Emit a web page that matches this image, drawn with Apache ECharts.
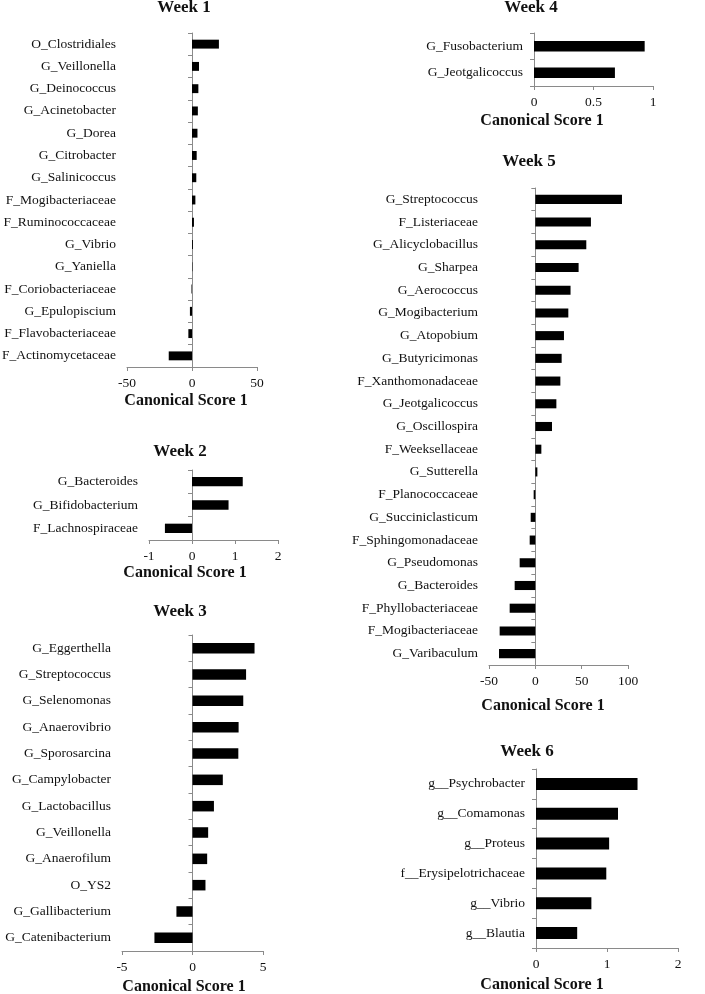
<!DOCTYPE html>
<html>
<head>
<meta charset="utf-8">
<title>Canonical scores by week</title>
<script src="https://cdn.jsdelivr.net/npm/echarts@6/dist/echarts.min.js"></script>
<style>
  html, body { margin: 0; padding: 0; background: #fff; }
  #chart { width: 705px; height: 994px; }
</style>
</head>
<body>
<div id="chart"></div>
<script>
// taxa are listed top to bottom, as they appear in each panel
const week1Taxa = ["O_Clostridiales", "G_Veillonella", "G_Deinococcus", "G_Acinetobacter", "G_Dorea",
  "G_Citrobacter", "G_Salinicoccus", "F_Mogibacteriaceae", "F_Ruminococcaceae", "G_Vibrio",
  "G_Yaniella", "F_Coriobacteriaceae", "G_Epulopiscium", "F_Flavobacteriaceae", "F_Actinomycetaceae"];
const week1Scores = [20.7, 5.4, 4.9, 4.5, 4.2, 3.6, 3.3, 2.6, 1.5, 0.7, 0.3, -0.4, -1.6, -2.8, -17.9];

const week2Taxa = ["G_Bacteroides", "G_Bifidobacterium", "F_Lachnospiraceae"];
const week2Scores = [1.18, 0.85, -0.63];

const week3Taxa = ["G_Eggerthella", "G_Streptococcus", "G_Selenomonas", "G_Anaerovibrio", "G_Sporosarcina",
  "G_Campylobacter", "G_Lactobacillus", "G_Veillonella", "G_Anaerofilum", "O_YS2",
  "G_Gallibacterium", "G_Catenibacterium"];
const week3Scores = [4.4, 3.8, 3.6, 3.27, 3.25, 2.15, 1.52, 1.11, 1.04, 0.92, -1.14, -2.7];

const week4Taxa = ["G_Fusobacterium", "G_Jeotgalicoccus"];
const week4Scores = [0.93, 0.68];

const week5Taxa = ["G_Streptococcus", "F_Listeriaceae", "G_Alicyclobacillus", "G_Sharpea", "G_Aerococcus",
  "G_Mogibacterium", "G_Atopobium", "G_Butyricimonas", "F_Xanthomonadaceae", "G_Jeotgalicoccus",
  "G_Oscillospira", "F_Weeksellaceae", "G_Sutterella", "F_Planococcaceae", "G_Succiniclasticum",
  "F_Sphingomonadaceae", "G_Pseudomonas", "G_Bacteroides", "F_Phyllobacteriaceae", "F_Mogibacteriaceae",
  "G_Varibaculum"];
const week5Scores = [93.5, 60, 55, 46.7, 38, 35.6, 30.9, 28.4, 27, 22.7,
  18, 6.5, 2.2, -1.8, -5, -6.1, -16.9, -22.3, -27.7, -38.5, -39.2];

const week6Taxa = ["g__Psychrobacter", "g__Comamonas", "g__Proteus", "f__Erysipelotrichaceae", "g__Vibrio", "g__Blautia"];
const week6Scores = [1.43, 1.155, 1.03, 0.99, 0.78, 0.58];

const serif = "'Liberation Serif', 'Times New Roman', serif";
const axisGray = "#8a8a8a";
const ink = "#111";

// page layout of each panel: plot box, x range, heading and axis-name centres
const panels = [
  { title: "Week 1", taxa: week1Taxa, scores: week1Scores, min: -50, max: 50, step: 50,
    box: { left: 127, top: 33, width: 130, height: 334 }, titleAt: [184, 8], nameAt: [186, 401] },
  { title: "Week 2", taxa: week2Taxa, scores: week2Scores, min: -1, max: 2, step: 1,
    box: { left: 149, top: 470, width: 129, height: 70 }, titleAt: [180, 452], nameAt: [185, 573] },
  { title: "Week 3", taxa: week3Taxa, scores: week3Scores, min: -5, max: 5, step: 5,
    box: { left: 122, top: 635, width: 141, height: 316 }, titleAt: [180, 612], nameAt: [184, 987] },
  { title: "Week 4", taxa: week4Taxa, scores: week4Scores, min: 0, max: 1, step: 0.5,
    box: { left: 534, top: 33, width: 119, height: 53 }, titleAt: [531, 8], nameAt: [542, 121] },
  { title: "Week 5", taxa: week5Taxa, scores: week5Scores, min: -50, max: 100, step: 50,
    box: { left: 489, top: 188, width: 139, height: 477 }, titleAt: [529, 162], nameAt: [543, 706] },
  { title: "Week 6", taxa: week6Taxa, scores: week6Scores, min: 0, max: 2, step: 1,
    box: { left: 536, top: 769, width: 142, height: 179 }, titleAt: [527, 752], nameAt: [542, 985] }
];

const titles = [];
const grids = [];
const xAxes = [];
const yAxes = [];
const series = [];

panels.forEach(function (p, i) {
  titles.push({
    text: p.title, left: p.titleAt[0], top: p.titleAt[1], padding: 0,
    textAlign: "center", textVerticalAlign: "middle",
    textStyle: { fontFamily: serif, fontSize: 17, fontWeight: "bold", color: ink }
  });
  titles.push({
    text: "Canonical Score 1", left: p.nameAt[0], top: p.nameAt[1], padding: 0,
    textAlign: "center", textVerticalAlign: "middle",
    textStyle: { fontFamily: serif, fontSize: 16, fontWeight: "bold", color: ink }
  });
  // keep the plot box fixed; labels may hang outside it
  grids.push({
    left: p.box.left, top: p.box.top, width: p.box.width, height: p.box.height,
    containLabel: false, outerBoundsMode: "none"
  });

  xAxes.push({
    type: "value", gridIndex: i, min: p.min, max: p.max, interval: p.step,
    axisLine: { show: true, lineStyle: { color: axisGray, width: 1 } },
    axisTick: { show: true, length: 4, lineStyle: { color: axisGray } },
    axisLabel: { fontFamily: serif, fontSize: 13.5, color: ink, margin: 9 },
    splitLine: { show: false }
  });

  // axis line sits at zero, the taxa names stay at the left edge of the plot
  yAxes.push({
    type: "category", gridIndex: i, inverse: true, data: p.taxa,
    axisLine: { show: true, onZero: true, lineStyle: { color: axisGray, width: 1 } },
    axisTick: { show: true, length: 4, lineStyle: { color: axisGray } },
    axisLabel: { fontFamily: serif, fontSize: 13.5, color: ink, margin: 11 },
    splitLine: { show: false }
  });

  series.push({
    type: "bar", xAxisIndex: i, yAxisIndex: i, data: p.scores,
    barCategoryGap: "60%", silent: true,
    itemStyle: { color: "#000" }
  });
});

const myChart = echarts.init(document.getElementById("chart"), null, { renderer: "canvas" });
myChart.setOption({
  animation: false,
  backgroundColor: "#fff",
  title: titles,
  grid: grids,
  xAxis: xAxes,
  yAxis: yAxes,
  series: series
});
</script>
</body>
</html>
